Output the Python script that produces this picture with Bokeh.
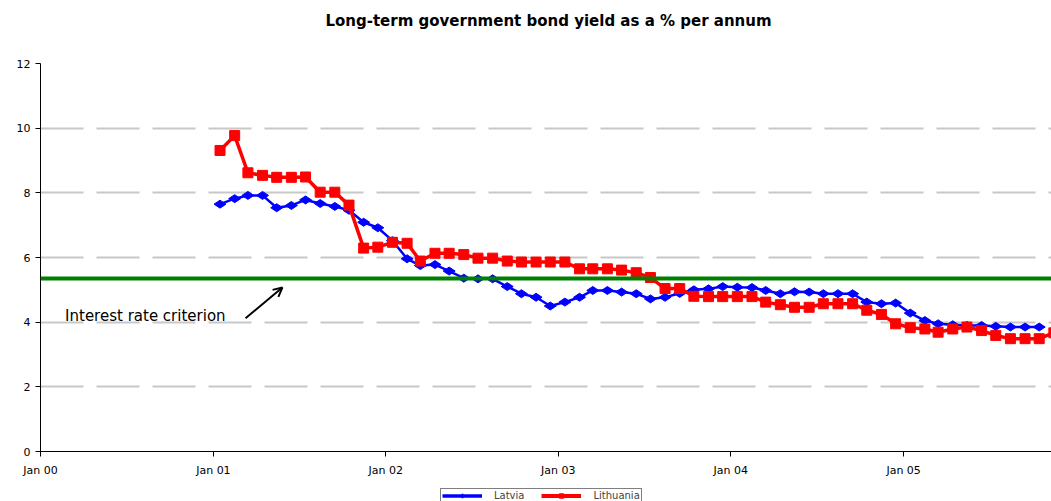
import math
import pandas as pd
from bokeh.plotting import figure
from bokeh.layouts import column
from bokeh.models import (ColumnDataSource, Span, Label, Arrow, OpenHead,
                          FixedTicker, DatetimeTickFormatter, Legend, LegendItem, Range1d)
from bokeh.embed import file_html
from bokeh.resources import INLINE

TITLE = "Long-term government bond yield as a % per annum"

# Monthly long-term government bond yields, % per annum, from January 2001
latvia = [
    7.65, 7.82, 7.92, 7.92, 7.54, 7.61, 7.78, 7.67, 7.58, 7.46, 7.09, 6.92,   # 2001
    6.52, 5.96, 5.75, 5.78, 5.58, 5.36, 5.34, 5.34, 5.10, 4.88, 4.77, 4.50,   # 2002
    4.62, 4.77, 4.98, 4.98, 4.93, 4.88, 4.72, 4.77, 4.89, 5.00, 5.03, 5.10,   # 2003
    5.08, 5.07, 4.98, 4.88, 4.94, 4.93, 4.88, 4.88, 4.88, 4.62, 4.57, 4.59,   # 2004
    4.28, 4.05, 3.95, 3.92, 3.90, 3.90, 3.87, 3.85, 3.85, 3.85,               # 2005
]
lithuania = [
    9.31, 9.77, 8.62, 8.54, 8.48, 8.48, 8.49, 8.02, 8.02, 7.62, 6.29, 6.32,   # 2001
    6.47, 6.44, 5.89, 6.13, 6.13, 6.09, 5.98, 5.98, 5.89, 5.86, 5.86, 5.86,   # 2002
    5.86, 5.65, 5.65, 5.65, 5.61, 5.53, 5.38, 5.04, 5.04, 4.80, 4.79, 4.79,   # 2003
    4.79, 4.79, 4.62, 4.54, 4.46, 4.46, 4.57, 4.57, 4.57, 4.37, 4.24, 3.95,   # 2004
    3.83, 3.79, 3.69, 3.79, 3.85, 3.74, 3.59, 3.49, 3.49, 3.49, 3.67,         # 2005
]
series_names = ["Latvia", "Lithuania"]
series_colors = ["#0000ff", "#ff0000"]
criterion = 5.35
criterion_label = "Interest rate criterion"
tick_years = [2000, 2001, 2002, 2003, 2004, 2005]
y_ticks = [0, 2, 4, 6, 8, 10, 12]

FONT = "DejaVu Sans"
WIDTH = 1051
LEFT = 40  # width of the y-axis gutter; every row's frame starts here


def ms(ts):
    return pd.Timestamp(ts).value // 10**6


def month_dates(n):
    return pd.date_range("2001-01-01", periods=n, freq="MS") + pd.Timedelta(days=14)


def strip(height):
    """A bare full-width row whose x units are page pixels."""
    f = figure(width=WIDTH, height=height, x_range=Range1d(LEFT, WIDTH), y_range=Range1d(0, height),
               output_backend="svg", toolbar_location=None,
               x_axis_location=None, y_axis_location=None,
               min_border_left=LEFT, min_border_right=0, min_border_top=0, min_border_bottom=0)
    f.grid.visible = False
    f.outline_line_color = None
    return f


# heading
head = strip(50)
head.add_layout(Label(x=548, y=30, text=TITLE, text_align="center", text_baseline="middle",
                      text_font=FONT, text_font_size="15px", text_font_style="bold",
                      text_color="black"))

# main chart
src_lv = ColumnDataSource(dict(date=month_dates(len(latvia)), value=latvia))
src_lt = ColumnDataSource(dict(date=month_dates(len(lithuania)), value=lithuania))

p = figure(width=WIDTH, height=437, x_axis_type="datetime",
           x_range=Range1d(ms("2000-01-01"), ms("2005-11-10")),
           y_range=Range1d(0, 12),
           output_backend="svg", toolbar_location=None,
           min_border_left=LEFT, min_border_right=0, min_border_top=13,
           min_border_bottom=36)
p.outline_line_color = None
p.background_fill_color = "white"
p.border_fill_color = "white"

p.xaxis.ticker = FixedTicker(ticks=[ms(f"{y}-01-01") for y in tick_years])
p.xaxis.formatter = DatetimeTickFormatter(years="%b %y", months="%b %y", days="%b %y")
p.yaxis.ticker = FixedTicker(ticks=y_ticks)
for ax in (p.xaxis, p.yaxis):
    ax.axis_line_color = "black"
    ax.axis_line_width = 1
    ax.major_tick_line_color = "black"
    ax.major_tick_out = 5
    ax.major_tick_in = 0
    ax.minor_tick_line_color = None
    ax.major_label_text_font = FONT
    ax.major_label_text_font_size = "11px"
    ax.major_label_text_color = "black"
p.xaxis.major_label_standoff = 7
p.yaxis.major_label_standoff = 5

p.xgrid.grid_line_color = None
p.ygrid.ticker = FixedTicker(ticks=[t for t in y_ticks if t > 0])
p.ygrid.grid_line_color = "#c8c8c8"
p.ygrid.grid_line_width = 2
p.ygrid.grid_line_dash = "43 13"

# convergence criterion
p.add_layout(Span(location=criterion, dimension="width",
                  line_color="#008000", line_width=4))

# series
p.line("date", "value", source=src_lv, line_color=series_colors[0], line_width=2.5)
p.scatter("date", "value", source=src_lv, marker="diamond", size=12,
          angle=math.pi / 2, fill_color=series_colors[0], line_color=series_colors[0])
p.line("date", "value", source=src_lt, line_color=series_colors[1], line_width=3.5)
p.scatter("date", "value", source=src_lt, marker="square", size=10,
          fill_color=series_colors[1], line_color=series_colors[1])

# annotation for the criterion line
p.add_layout(Label(x=ms("2000-02-22"), y=4.18, text=criterion_label,
                   text_baseline="middle", text_align="left",
                   text_font=FONT, text_font_size="15px", text_color="black"))
p.add_layout(Arrow(end=OpenHead(size=9, line_width=2, line_color="black"),
                   x_start=ms("2001-03-10"), y_start=4.12,
                   x_end=ms("2001-05-27"), y_end=5.07,
                   line_color="black", line_width=2))

# legend row; sample glyphs sit off-screen so only the key shows
key = strip(14)
off = dict(x=[-100], y=[-100])
k_lv_line = key.line("x", "y", source=ColumnDataSource(off),
                     line_color=series_colors[0], line_width=3.5)
k_lv_pts = key.scatter("x", "y", source=ColumnDataSource(off), marker="diamond", size=12,
                       angle=math.pi / 2, fill_color=series_colors[0], line_color=series_colors[0])
k_lt_line = key.line("x", "y", source=ColumnDataSource(off),
                     line_color=series_colors[1], line_width=4)
k_lt_pts = key.scatter("x", "y", source=ColumnDataSource(off), marker="square", size=10,
                       fill_color=series_colors[1], line_color=series_colors[1])

legend = Legend(items=[LegendItem(label=series_names[0], renderers=[k_lv_line, k_lv_pts]),
                       LegendItem(label=series_names[1], renderers=[k_lt_line, k_lt_pts])],
                orientation="horizontal", location=(440 - LEFT, -2))
legend.border_line_color = "black"
legend.border_line_width = 1.5
legend.padding = 1
legend.margin = 0
legend.spacing = 17
legend.glyph_width = 40
legend.glyph_height = 11
legend.label_height = 11
legend.label_standoff = 12
legend.label_text_font = FONT
legend.label_text_font_size = "10px"
legend.background_fill_alpha = 1
key.add_layout(legend, "center")

open("out.html", "w").write(file_html(column(head, p, key, spacing=0), INLINE))
